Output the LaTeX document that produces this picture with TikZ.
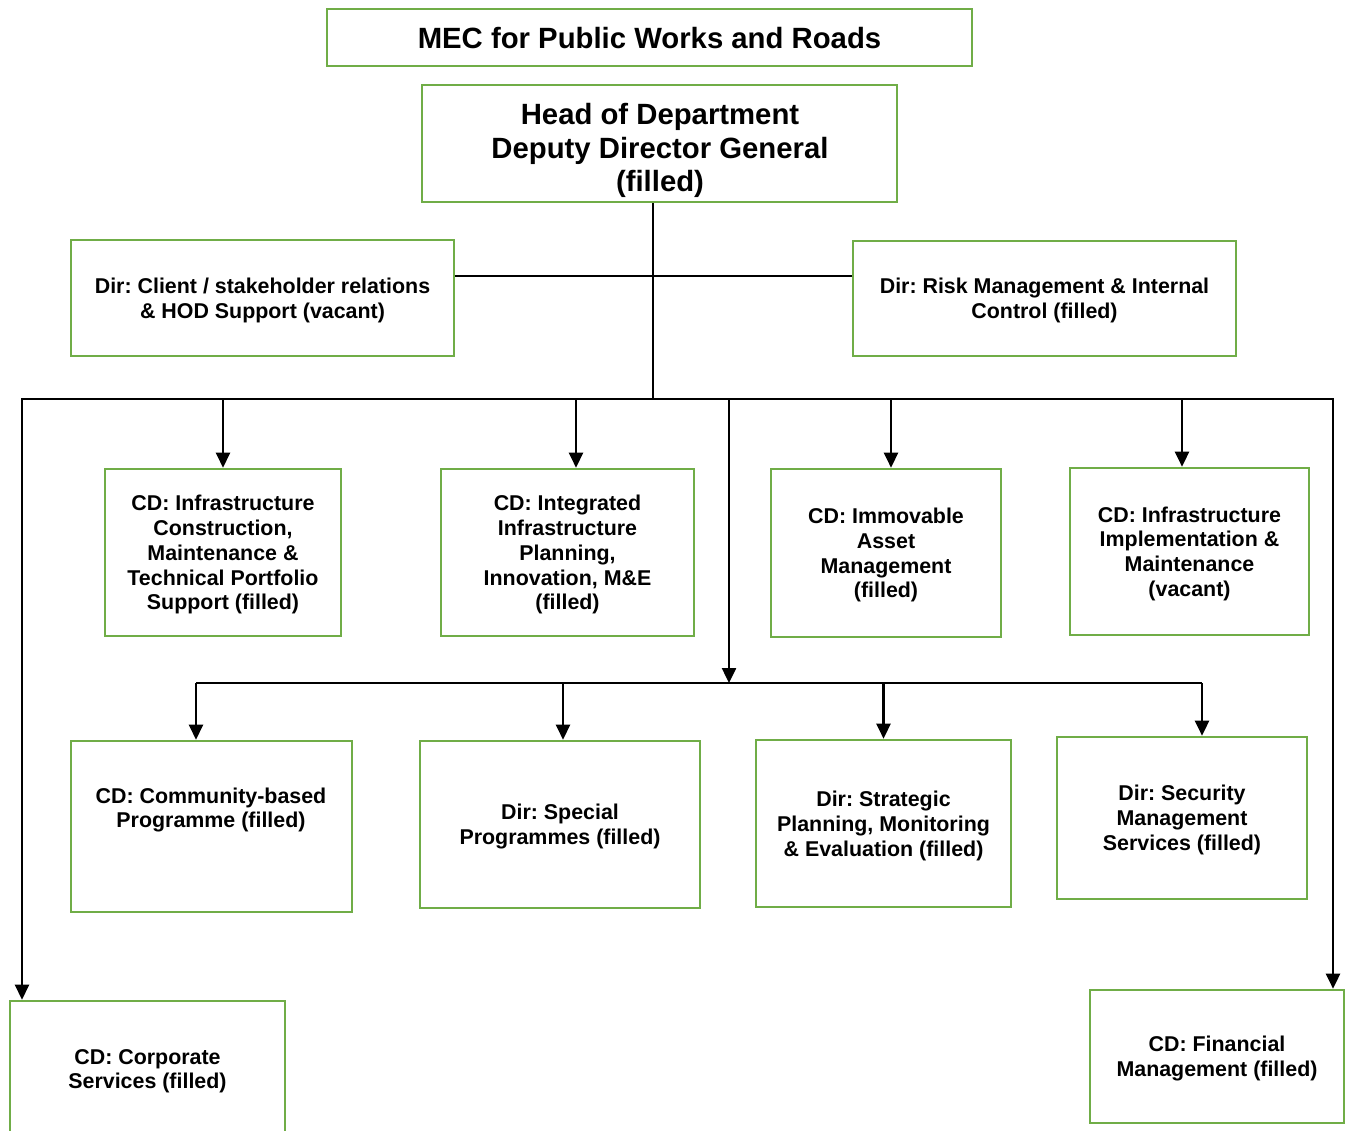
\documentclass[tikz,border=0pt]{standalone}
\usepackage{fontspec}
\setmainfont{Liberation Sans}
\usetikzlibrary{arrows.meta,positioning,calc}
\definecolor{boxgreen}{RGB}{112,173,71}
\frenchspacing

\begin{document}
\begin{tikzpicture}[x=1pt,y=-1pt,>={Triangle[width=14pt,length=15pt]},
block/.style={draw=boxgreen,line width=2.6pt,align=center,inner sep=0pt,text depth=0pt,font=\bfseries\fontsize{21.4}{24.8}\selectfont},
title/.style={block,font=\bfseries\fontsize{29.3}{33.5}\selectfont},
plain/.style={align=center,inner sep=0pt,font=\bfseries\fontsize{21.4}{24.8}\selectfont},
flow/.style={->,line width=2.5pt},
bus/.style={line width=2.5pt}]
\useasboundingbox (0,0) rectangle (1346,1131);
% top of the structure
\node[title,minimum width=645,minimum height=57] (mec) at (649.5,37.5) {MEC for Public Works and Roads};
\node[title,minimum width=475,minimum height=117] (hod) at (659.5,143.5) {};
\node[plain,font=\bfseries\fontsize{29.3}{33.5}\selectfont] (hodtext) at (660,150.5)
{Head of Department\\Deputy Director General\\(filled)};
\node[block,minimum width=383,minimum height=116] (client) at (262.5,298)
{Dir: Client / stakeholder relations\\\& HOD Support (vacant)};
\node[block,minimum width=383,minimum height=115] (risk) at (1044.5,298.5)
{Dir: Risk Management \& Internal\\Control (filled)};
% chief directorates, first row
\node[block,minimum width=236,minimum height=167] (infra) at (223,552.5)
{CD: Infrastructure\\Construction,\\Maintenance \&\\Technical Portfolio\\Support (filled)};
\node[block,minimum width=253,minimum height=167] (plan) at (567.5,552.5)
{CD: Integrated\\Infrastructure\\Planning,\\Innovation, M\&E\\(filled)};
\node[block,minimum width=230,minimum height=168] (asset) at (886,553)
{CD: Immovable\\Asset\\Management\\(filled)};
\node[block,minimum width=239,minimum height=167] (impl) at (1189.5,551.5)
{CD: Infrastructure\\Implementation \&\\Maintenance\\(vacant)};
% second row
\node[block,minimum width=281,minimum height=171] (comm) at (211.5,826.5) {};
\node[plain] (commtext) at (211,810) {CD: Community-based\\Programme (filled)};
\node[block,minimum width=280,minimum height=167] (special) at (560,824.5)
{Dir: Special\\Programmes (filled)};
\node[block,minimum width=255,minimum height=167] (strat) at (883.5,823.5)
{Dir: Strategic\\Planning, Monitoring\\\& Evaluation (filled)};
\node[block,minimum width=250,minimum height=162] (secur) at (1182,818)
{Dir: Security\\Management\\Services (filled)};
% bottom corners
\node[block,minimum width=275,minimum height=136] (corp) at (147.5,1069)
{CD: Corporate\\Services (filled)};
\node[block,minimum width=254,minimum height=133] (fin) at (1217,1056.5)
{CD: Financial\\Management (filled)};
% lines
\coordinate (mid) at (653,276);
\coordinate (hub) at (653,399);
\coordinate (busL) at (22,399);
\coordinate (busR) at (1333,399);
\coordinate (drop) at (729,399);
\coordinate (hub2) at (729,683);
\draw[bus] (hod.south -| hub)--(hub);
\draw[bus] (client.east |- mid)--(risk.west |- mid);
\draw[flow] (hub)--(busL)--(busL |- corp.north);
\draw[flow] (hub)--(busR)--(busR |- fin.north);
\foreach \n/\dx in {infra/0,plan/8.5,asset/5,impl/-7.5}
  \draw[flow] ([xshift=\dx]\n.north |- hub)--([xshift=\dx]\n.north);
\draw[flow] (drop)--(hub2);
\draw[bus] ([xshift=-15.5]comm.north |- hub2)--([xshift=20]secur.north |- hub2);
\foreach \n/\dx in {comm/-15.5,special/3,strat/0,secur/20}
  \draw[flow] ([xshift=\dx]\n.north |- hub2)--([xshift=\dx]\n.north);
\end{tikzpicture}
\end{document}
